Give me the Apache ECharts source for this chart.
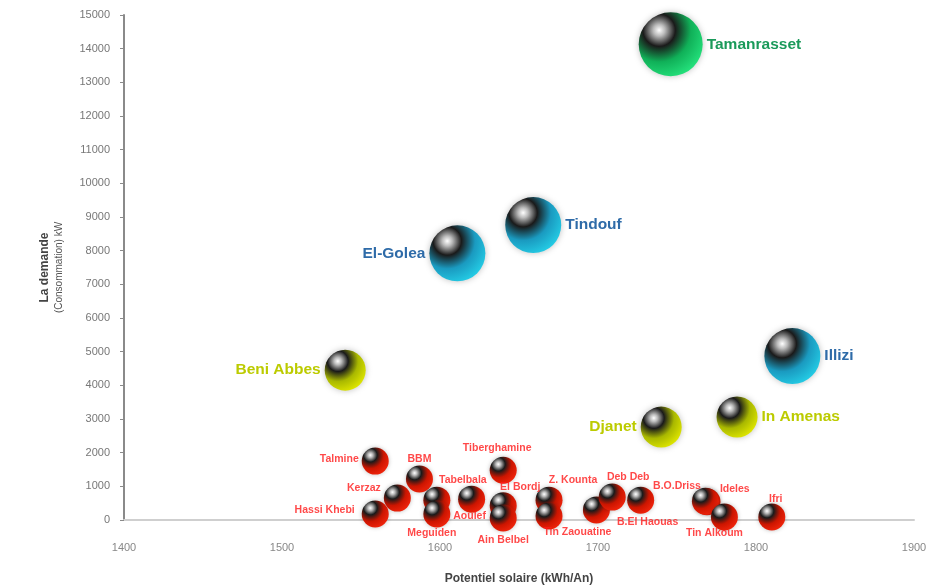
<!DOCTYPE html>
<html><head><meta charset="utf-8">
<script src="https://cdn.jsdelivr.net/npm/echarts@6/dist/echarts.min.js"></script>
<style>html,body{margin:0;padding:0;background:#fff}#c{width:928px;height:586px}</style>
</head><body><div id="c"></div>
<script>
// ---- data ----
const xTicks = [1400, 1500, 1600, 1700, 1800, 1900];
const yTicks = [0,1000,2000,3000,4000,5000,6000,7000,8000,9000,10000,11000,12000,13000,14000,15000];

const greenNames = ['Tamanrasset'];
const greenX = [1746];
const greenY = [14130];

const blueNames = ['Tindouf', 'El-Golea', 'Illizi'];
const blueX = [1659, 1611, 1823];
const blueY = [8760, 7920, 4870];

const yellowNames = ['Beni Abbes', 'Djanet', 'In Amenas'];
const yellowX = [1540, 1740, 1788];
const yellowY = [4450, 2760, 3060];

const redNames = ['Talmine','BBM','Kerzaz','Hassi Khebi','Tabelbala','Meguiden','Aoulef','Tiberghamine',
  'El Bordj','Ain Belbel','Z. Kounta','Tamest','Tin Zaouatine','Deb Deb','B.El Haouas','B.O.Driss','Ideles','Tin Alkoum','Ifri'];
const redX = [1559,1587,1573,1559,1598,1598,1620,1640,1640,1640,1669,1669,1699,1709,1727,1769,1768,1780,1810];
const redY = [1750,1220,650,180,590,180,620,1480,420,60,590,120,300,680,590,540,560,90,90];

// ---- label layout (styling, not data) ----
const redLabelLayout = {
  'Talmine': ['left', [0, -2]],
  'BBM': ['top', [0, 2]],
  'Kerzaz': ['left', [0, -10]],
  'Hassi Khebi': ['left', [-4, -4]],
  'Tabelbala': ['top', [26, 2]],
  'Meguiden': ['bottom', [-5, -3]],
  'Aoulef': ['bottom', [-2, -5]],
  'Tiberghamine': ['top', [-6, 0]],
  'El Bordj': ['top', [17, 3]],
  'Ain Belbel': ['bottom', [0, 0]],
  'Z. Kounta': ['top', [24, 2]],
  'Tamest': null,
  'Tin Zaouatine': ['bottom', [-19, 0]],
  'Deb Deb': ['top', [16, 2]],
  'B.El Haouas': ['bottom', [7, 0]],
  'B.O.Driss': ['top', [-30, 6]],
  'Ideles': ['right', [-2, -12]],
  'Tin Alkoum': ['bottom', [-10, -6]],
  'Ifri': ['top', [4, 4]]
};
const bigLabelSide = {
  'Tamanrasset': 'right', 'Tindouf': 'right', 'El-Golea': 'left', 'Illizi': 'right',
  'Beni Abbes': 'left', 'Djanet': 'left', 'In Amenas': 'right'
};

const FONT = 'Liberation Sans, Arial, sans-serif';
const RED_SIZE = 27;

function sphere(bright, mid) {
  return new echarts.graphic.RadialGradient(0.32, 0.28, 0.9, [
    { offset: 0, color: '#ffffff' },
    { offset: 0.1, color: '#bbbbbb' },
    { offset: 0.28, color: '#1a1a1a' },
    { offset: 0.55, color: mid },
    { offset: 1, color: bright }
  ]);
}

function build(names, xs, ys) {
  return names.map((n, i) => ({ name: n, value: [xs[i], ys[i]] }));
}

function bigSeries(names, xs, ys, size, bright, mid, labelColor) {
  return {
    type: 'scatter',
    symbolSize: size,
    data: build(names, xs, ys).map(d => Object.assign(d, {
      label: { position: bigLabelSide[d.name] }
    })),
    itemStyle: { color: sphere(bright, mid), shadowBlur: 6, shadowColor: 'rgba(0,0,0,0.25)', opacity: 1 },
    label: {
      show: true, formatter: '{b}', color: labelColor, fontSize: 15.5, fontWeight: 'bold',
      fontFamily: FONT, distance: 4
    },
    emphasis: { disabled: true },
    z: 3
  };
}

const redLabelData = build(redNames, redX, redY).map(d => {
  const l = redLabelLayout[d.name];
  if (!l) return Object.assign(d, { label: { show: false } });
  return Object.assign(d, { label: { show: true, position: l[0] } });
});

const chart = echarts.init(document.getElementById('c'), null, { renderer: 'canvas' });
chart.setOption({
  animation: false,
  backgroundColor: '#ffffff',
  grid: { left: 124, right: 14, top: 15, bottom: 66, outerBoundsMode: 'none', containLabel: false },
  xAxis: {
    type: 'value', min: xTicks[0], max: xTicks[xTicks.length - 1], interval: 100,
    name: 'Potentiel solaire (kWh/An)', nameLocation: 'middle', nameGap: 53,
    nameTextStyle: { fontSize: 12, fontWeight: 'bold', color: '#444', fontFamily: FONT },
    axisLine: { show: true, lineStyle: { color: '#cfcfcf', width: 2 } },
    axisTick: { show: false },
    splitLine: { show: false },
    axisLabel: { margin: 22, fontSize: 11, color: '#888', fontFamily: FONT, formatter: v => String(v) }
  },
  yAxis: {
    type: 'value', min: yTicks[0], max: yTicks[yTicks.length - 1], interval: 1000,
    name: '{a|La demande}\n{b|(Consommation) kW}', nameLocation: 'middle', nameGap: 58, nameRotate: 90,
    nameTextStyle: {
      rich: {
        a: { fontSize: 12, fontWeight: 'bold', color: '#444', fontFamily: FONT, lineHeight: 15 },
        b: { fontSize: 10, color: '#555', fontFamily: FONT, lineHeight: 14 }
      }
    },
    axisLine: { show: true, lineStyle: { color: '#8a8a8a', width: 2 } },
    axisTick: { show: true, inside: false, length: 4, lineStyle: { color: '#8a8a8a' } },
    splitLine: { show: false },
    axisLabel: { margin: 14, fontSize: 11, color: '#777', fontFamily: FONT, formatter: v => String(v) }
  },
  series: [
    {
      type: 'scatter',
      symbolSize: RED_SIZE,
      data: build(redNames, redX, redY),
      itemStyle: { color: sphere('#ff2a10', '#cc1500'), shadowBlur: 4, shadowColor: 'rgba(0,0,0,0.25)', opacity: 1 },
      label: { show: false },
      emphasis: { disabled: true },
      z: 2
    },
    {
      // label-only overlay so red names sit above all bubbles
      type: 'scatter',
      symbolSize: RED_SIZE,
      data: redLabelData,
      itemStyle: { color: 'rgba(0,0,0,0)' },
      label: { show: true, formatter: '{b}', color: '#ff1a1a', fontSize: 10.5, fontWeight: 'bold', fontFamily: FONT, distance: 3 },
      labelLayout: function (p) {
        const l = redLabelLayout[redNames[p.dataIndex]];
        return l ? { dx: l[1][0], dy: l[1][1], hideOverlap: false } : {};
      },
      silent: true,
      emphasis: { disabled: true },
      z: 6
    },
    bigSeries(yellowNames, yellowX, yellowY, 41, '#f4f800', '#a9b800', '#bccb00'),
    bigSeries(blueNames, blueX, blueY, 56, '#28e0f4', '#1a9ac0', '#2e6ba8'),
    bigSeries(greenNames, greenX, greenY, 64, '#2cf58a', '#10b058', '#1a9a5a')
  ]
});
</script></body></html>
